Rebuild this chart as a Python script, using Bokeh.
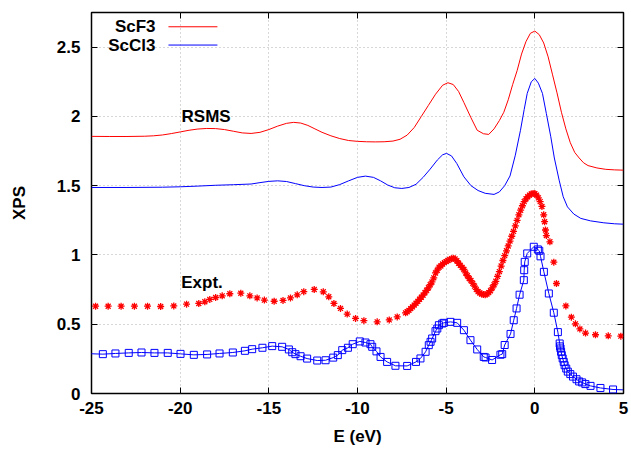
from bokeh.plotting import figure
from bokeh.models import (LinearAxis, FixedTicker, NumeralTickFormatter, Label, Arrow)
from bokeh.embed import file_html
from bokeh.resources import INLINE

# ---------------- data ----------------
x_ticks = [-25, -20, -15, -10, -5, 0, 5]
y_ticks = [0, 0.5, 1, 1.5, 2, 2.5]

# RSMS ScF3 (red line)
rsms_f_x = [-25, -24, -23, -22, -21.5, -21, -20.5, -20, -19.5, -19, -18.5, -18, -17.5, -17, -16.5, -16,
            -15.5, -15, -14.5, -14, -13.6, -13.2, -12.8, -12.4, -12, -11.5, -11, -10.5, -10, -9.5, -9,
            -8.5, -8, -7.6, -7.2, -6.8, -6.4, -6.0, -5.6, -5.2, -4.9, -4.6, -4.3, -4.0, -3.6, -3.25,
            -2.9, -2.6, -2.3, -2.0, -1.75, -1.5, -1.25, -1.0, -0.75, -0.5, -0.25, 0, 0.25, 0.5, 0.75,
            1.0, 1.25, 1.5, 1.75, 2.0, 2.25, 2.5, 2.75, 3.0, 3.5, 4.0, 4.5, 5.0]
rsms_f_y = [1.856, 1.855, 1.855, 1.857, 1.860, 1.866, 1.876, 1.888, 1.900, 1.909, 1.913, 1.912, 1.905,
            1.893, 1.881, 1.877, 1.885, 1.905, 1.930, 1.950, 1.957, 1.952, 1.935, 1.910, 1.885, 1.860,
            1.840, 1.826, 1.820, 1.817, 1.816, 1.817, 1.822, 1.835, 1.865, 1.920, 2.000, 2.080, 2.160,
            2.225, 2.243, 2.230, 2.180, 2.100, 1.990, 1.900, 1.875, 1.870, 1.910, 1.970, 2.030, 2.120,
            2.230, 2.330, 2.450, 2.540, 2.600, 2.616, 2.590, 2.530, 2.430, 2.300, 2.170, 2.030, 1.910,
            1.810, 1.740, 1.700, 1.665, 1.645, 1.628, 1.618, 1.614, 1.612]

# RSMS ScCl3 (blue line)
rsms_c_x = [-25, -23, -21, -20, -19, -18, -17, -16, -15.5, -15, -14.5, -14, -13.5, -13, -12.5, -12,
            -11.5, -11, -10.5, -10, -9.55, -9.1, -8.7, -8.3, -7.9, -7.5, -7.1, -6.7, -6.3, -5.9, -5.5,
            -5.2, -4.98, -4.7, -4.4, -4.0, -3.6, -3.2, -2.8, -2.3, -2.0, -1.7, -1.4, -1.1, -0.81, -0.6,
            -0.43, -0.2, 0, 0.2, 0.43, 0.65, 0.9, 1.1, 1.37, 1.6, 1.84, 2.2, 2.59, 3.14, 3.89, 4.5, 5.0]
rsms_c_y = [1.487, 1.487, 1.489, 1.492, 1.497, 1.503, 1.507, 1.512, 1.522, 1.531, 1.535, 1.530, 1.515,
            1.500, 1.490, 1.487, 1.490, 1.508, 1.535, 1.560, 1.569, 1.560, 1.535, 1.505, 1.485, 1.480,
            1.487, 1.510, 1.560, 1.620, 1.685, 1.723, 1.733, 1.715, 1.660, 1.564, 1.500, 1.465, 1.445,
            1.437, 1.455, 1.500, 1.570, 1.720, 1.900, 2.050, 2.166, 2.250, 2.274, 2.240, 2.166, 2.020,
            1.853, 1.700, 1.540, 1.420, 1.347, 1.295, 1.264, 1.246, 1.232, 1.225, 1.222]

# Expt. ScF3 (red asterisks)
expt_f_x = [-24.77, -24.06, -23.33, -22.58, -21.84, -21.10, -20.36, -19.64, -18.95, -18.61, -18.33,
            -18.00, -17.63, -17.20, -16.58, -16.07, -15.66, -15.25, -14.70, -14.20, -13.78, -13.40,
            -13.03, -12.44, -11.93, -11.62, -11.33, -10.96, -10.58, -10.11, -9.64, -8.89, -8.21, -7.76,
            -7.29, -7.2, -7.1, -7.0, -6.9, -6.8, -6.7, -6.6, -6.5, -6.4, -6.3, -6.2, -6.1, -6.0, -5.9,
            -5.8, -5.7, -5.6, -5.5, -5.4, -5.3, -5.2, -5.1, -5.0, -4.9, -4.8, -4.7, -4.6, -4.5, -4.4,
            -4.3, -4.2, -4.1, -4.0, -3.9, -3.8, -3.7, -3.6, -3.5, -3.4, -3.3, -3.2, -3.1, -3.0, -2.9,
            -2.8, -2.7, -2.6, -2.5, -2.4, -2.3, -2.2, -2.1, -2.0, -1.9, -1.8, -1.7, -1.6, -1.5, -1.4,
            -1.3, -1.2, -1.1, -1.0, -0.9, -0.8, -0.7, -0.6, -0.5, -0.4, -0.3, -0.2, -0.1, 0.0, 0.1,
            0.2, 0.3, 0.4, 0.5, 0.55, 0.6, 0.65, 0.85, 1.07, 1.22, 1.75, 2.06, 2.29, 2.54, 2.86, 3.42,
            4.14, 4.85]
expt_f_y = [0.630, 0.630, 0.630, 0.630, 0.630, 0.628, 0.632, 0.645, 0.650, 0.662, 0.679, 0.693, 0.705,
            0.720, 0.724, 0.705, 0.690, 0.674, 0.666, 0.672, 0.690, 0.712, 0.735, 0.751, 0.734, 0.698,
            0.650, 0.614, 0.573, 0.542, 0.526, 0.517, 0.531, 0.553, 0.582, 0.590, 0.600, 0.613, 0.625,
            0.638, 0.651, 0.665, 0.680, 0.695, 0.710, 0.727, 0.745, 0.763, 0.785, 0.805, 0.835, 0.870,
            0.890, 0.912, 0.920, 0.935, 0.945, 0.952, 0.960, 0.968, 0.973, 0.977, 0.972, 0.958, 0.940,
            0.925, 0.910, 0.895, 0.870, 0.850, 0.830, 0.815, 0.795, 0.775, 0.752, 0.735, 0.725, 0.718,
            0.714, 0.713, 0.718, 0.728, 0.742, 0.763, 0.785, 0.810, 0.845, 0.880, 0.920, 0.960, 0.995,
            1.030, 1.065, 1.100, 1.135, 1.170, 1.210, 1.250, 1.290, 1.323, 1.355, 1.385, 1.405, 1.420,
            1.432, 1.440, 1.444, 1.443, 1.432, 1.412, 1.385, 1.350, 1.290, 1.240, 1.180, 1.140, 1.095,
            0.948, 0.794, 0.632, 0.551, 0.503, 0.466, 0.436, 0.424, 0.416, 0.414]

# Expt. ScCl3 (blue squares with line)
expt_c_x = [-25.3, -24.36, -23.65, -22.90, -22.18, -21.45, -20.70, -19.98, -19.23, -18.48, -17.78,
            -17.03, -16.35, -15.94, -15.36, -14.81, -14.25, -13.87, -13.68, -13.50, -13.21, -12.84,
            -12.27, -11.80, -11.37, -11.11, -10.86, -10.54, -10.27, -9.87, -9.55, -9.27, -9.17, -8.93,
            -8.70, -8.33, -7.86, -7.20, -6.70, -6.45, -6.16, -5.98, -5.88, -5.79, -5.60, -5.50, -5.41,
            -5.22, -5.13, -4.76, -4.38, -4.00, -3.63, -3.25, -2.88, -2.78, -2.41, -1.94, -1.84, -1.70,
            -1.37, -1.19, -1.03, -0.86, -0.62, -0.60, -0.57, -0.43, -0.06, 0.17, 0.25, 0.32, 0.51, 0.79,
            1.07, 1.30, 1.40, 1.42, 1.45, 1.48, 1.52, 1.57, 1.63, 1.68, 1.77, 1.86, 2.00, 2.15, 2.35,
            2.50, 2.67, 2.85, 3.14, 3.70, 4.41, 5.3]
expt_c_y = [0.288, 0.284, 0.289, 0.293, 0.296, 0.293, 0.293, 0.286, 0.279, 0.282, 0.289, 0.296, 0.308,
            0.320, 0.330, 0.342, 0.337, 0.318, 0.298, 0.284, 0.269, 0.252, 0.238, 0.240, 0.259, 0.277,
            0.313, 0.330, 0.356, 0.376, 0.368, 0.356, 0.337, 0.304, 0.264, 0.228, 0.200, 0.199, 0.228,
            0.253, 0.301, 0.349, 0.373, 0.397, 0.450, 0.469, 0.493, 0.505, 0.510, 0.517, 0.510, 0.457,
            0.385, 0.318, 0.264, 0.260, 0.242, 0.280, 0.284, 0.350, 0.430, 0.529, 0.614, 0.713, 0.818,
            0.890, 0.950, 1.011, 1.059, 1.040, 1.030, 0.990, 0.878, 0.722, 0.583, 0.443, 0.361, 0.340,
            0.325, 0.301, 0.277, 0.253, 0.228, 0.204, 0.180, 0.158, 0.140, 0.122, 0.103, 0.087, 0.080,
            0.068, 0.055, 0.040, 0.029, 0.025]

legend_names = ["ScF3", "ScCl3"]
FONT = "Liberation Sans"
FS = "17px"

p = figure(width=631, height=449, x_range=(-25, 5), y_range=(0, 2.75),
           output_backend="svg", toolbar_location=None,
           min_border_left=91, min_border_right=8, min_border_top=12, min_border_bottom=56)
p.background_fill_color = "white"
p.border_fill_color = "white"
p.outline_line_color = "black"
p.outline_line_width = 1.5

xt = FixedTicker(ticks=x_ticks, minor_ticks=[])
yt = FixedTicker(ticks=y_ticks, minor_ticks=[])
p.xaxis.ticker = xt
p.yaxis.ticker = yt
p.xaxis.formatter = NumeralTickFormatter(format="0")
p.yaxis.formatter = NumeralTickFormatter(format="0.[0]")

for ax in (p.xaxis[0], p.yaxis[0]):
    ax.axis_line_color = None
    ax.major_tick_in = 6
    ax.major_tick_out = 0
    ax.major_tick_line_color = "black"
    ax.minor_tick_line_color = None
    ax.major_label_text_font = FONT
    ax.major_label_text_font_style = "bold"
    ax.major_label_text_font_size = FS
    ax.major_label_text_color = "black"
    ax.axis_label_text_font = FONT
    ax.axis_label_text_font_style = "bold"
    ax.axis_label_text_font_size = FS
    ax.axis_label_text_color = "black"

p.xaxis.axis_label = "E (eV)"
p.yaxis.axis_label = "XPS"
p.xaxis.major_label_standoff = 8
p.xaxis.axis_label_standoff = 10
p.yaxis.major_label_standoff = 11
p.yaxis.axis_label_standoff = 25

for loc, tk in (("above", xt), ("right", yt)):
    ax = LinearAxis(ticker=tk, axis_line_color=None, major_tick_in=6, major_tick_out=0,
                    major_tick_line_color="black", minor_tick_line_color=None,
                    major_label_text_font_size="1px", major_label_text_color=None,
                    major_label_standoff=0)
    p.add_layout(ax, loc)

p.grid.grid_line_color = "#b0b0b0"
p.grid.grid_line_dash = "1 3"
p.grid.grid_line_width = 1
p.xgrid.ticker = xt
p.ygrid.ticker = yt

# curves
p.line(rsms_f_x, rsms_f_y, line_color="red", line_width=1)
p.line(rsms_c_x, rsms_c_y, line_color="blue", line_width=1)
p.scatter(expt_f_x, expt_f_y, marker="asterisk", size=7, line_color="red", line_width=1.3)
p.line(expt_c_x, expt_c_y, line_color="blue", line_width=1)
p.scatter(expt_c_x, expt_c_y, marker="square", size=7, fill_color=None, line_color="blue", line_width=1)

# legend (gnuplot style: text, then sample)
leg_y = [2.647, 2.515]
leg_colors = ["red", "blue"]
for name, yy, c in zip(legend_names, leg_y, leg_colors):
    p.add_layout(Label(x=-21.39, y=yy, text=name, text_align="right", text_baseline="middle",
                       text_font=FONT, text_font_style="bold", text_font_size=FS, text_color="black"))
    p.add_layout(Arrow(start=None, end=None, x_start=-20.66, x_end=-17.9, y_start=yy, y_end=yy,
                       line_color=c, line_width=1))

p.add_layout(Label(x=-19.92, y=2.0, text="RSMS", text_align="left", text_baseline="middle",
                   text_font=FONT, text_font_style="bold", text_font_size=FS, text_color="black"))
p.add_layout(Label(x=-19.94, y=0.804, text="Expt.", text_align="left", text_baseline="middle",
                   text_font=FONT, text_font_style="bold", text_font_size=FS, text_color="black"))

open("out.html", "w").write(file_html(p, INLINE))
